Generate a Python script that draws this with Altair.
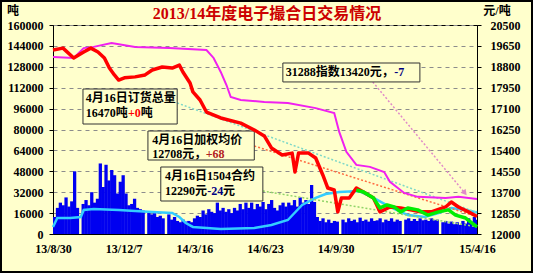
import altair as alt
import pandas as pd

# ---------------- data ----------------
tick_days = [0, 99, 198, 297, 396, 495, 594]
tick_labels = ["13/8/30", "13/12/7", "14/3/16", "14/6/23", "14/9/30", "15/1/7", "15/4/16"]

# daily volume (tons), one bar every 4 days; 0 = holiday gap
volume = [13000, 20000, 24000, 22000, 28000, 21000, 25000, 48000, 20000,
          0,
          23000, 26000, 22000, 32000, 24000, 27000, 54000, 36000, 53000, 41000, 49000,
          45000, 31000, 40000, 45000, 31000, 22000, 23000, 27000, 20000, 19000, 18000,
          0,
          17000, 15000, 16000, 13000, 14000, 12000,
          0,
          15000, 11000, 13000, 10000, 9000, 11000, 9500, 10000, 9000, 12000,
          14000, 13000, 18000, 15000, 19000, 17000, 16000, 24000, 18000, 20000,
          17000, 19000, 16000, 20000, 18000, 23000, 19000, 24000, 20000, 24000,
          19000, 23000, 21000, 24500, 19000, 23000, 26000, 20000, 18000, 22000,
          24000, 21000, 24000, 22000, 26000, 21000, 28000, 24000, 26000, 23000,
          37500, 24500, 13000, 10000, 12000, 9000, 11000, 8500, 10000, 9500,
          0,
          11000, 9000, 12000, 10000, 11000, 9000, 12500, 10000, 11000, 9500, 12000,
          10000, 10500, 12000, 9000, 11000, 10000, 12000, 9500, 11000, 10000,
          0,
          11000, 12000, 10000, 11500, 10000, 12000, 10500, 11000, 10000, 12000, 10500, 11000,
          0,
          9000, 10000, 8000, 9500, 7500, 9000, 7000, 10000, 8000, 12000, 9000, 13000, 11000]

# total open orders (tons, left axis)
order_days = [0, 6, 24, 39, 43, 57, 92, 115, 139, 167, 177, 186, 196, 235, 282, 306,
              329, 349, 368, 382, 401, 429, 449, 472, 497, 521, 540, 558, 578, 594]
order_vals = [5400, 12300, 12300, 13000, 18400, 19100, 18400, 17600, 16800, 16100, 13000,
              8400, 5400, 3800, 4600, 6900, 10700, 22200, 27600, 30600, 32200, 32900,
              27600, 20700, 14500, 13000, 16100, 19900, 18400, 16470]

# weighted average price (yuan/ton, right axis)
price_days = [0, 14, 29, 43, 53, 63, 72, 79, 86, 92, 100, 115, 129, 139, 153, 167, 177,
              182, 192, 196, 206, 215, 235, 263, 282, 296, 306, 321, 335, 339, 344, 358,
              368, 378, 385, 394, 399, 404, 415, 425, 435, 449, 458, 472, 487, 501, 515,
              530, 550, 558, 568, 582, 594]
price_vals = [19480, 19560, 19160, 19400, 19560, 19400, 19160, 18750, 18470, 18260, 18350,
              18390, 18470, 18670, 18790, 18750, 18870, 18590, 18140, 17780, 17450, 16960,
              16720, 16510, 16230, 15990, 15500, 15210, 15290, 14520, 15290, 15290, 15090,
              14400, 13870, 13790, 12900, 13460, 13460, 13870, 13710, 13460, 12900, 13100,
              13060, 12980, 12900, 12900, 13100, 13300, 13100, 12900, 12708]

# 1504 contract (yuan/ton, right axis)
c1504_days = [425, 435, 449, 458, 468, 478, 487, 497, 511, 525, 540, 554, 564, 578, 594]
c1504_vals = [13790, 13710, 13460, 13060, 13180, 13100, 12900, 13060, 12980, 12770, 12900,
              12980, 12770, 12650, 12290]

# 31288 index (yuan/ton, right axis)
index_days = [0, 29, 43, 57, 82, 115, 163, 215, 225, 235, 243, 249, 263, 296, 329, 368,
              394, 401, 411, 425, 444, 464, 472, 492, 511, 550, 568, 594]
index_vals = [19200, 19160, 19560, 19610, 19770, 19610, 19560, 19480, 19160, 18590, 18060,
              17570, 17450, 17370, 17330, 17120, 16920, 16150, 15340, 14810, 14730, 14520,
              14120, 13670, 13510, 13460, 13510, 13420]

# ---------------- annotation layout (data units: day, left-axis tons) ----------------
box_x = [42, 133, 151, 322]
box_x2 = [174, 282, 294, 514]
box_y = [84200, 56650, 25260, 116400]
box_y2 = [111000, 78850, 51290, 130900]

ann_text = ["4月16日订货总量", "16470吨", "+0", "吨",
            "4月16日加权均价", "12708元，", "+68",
            "4月16日1504合约", "12290元", "-24", "元",
            "31288指数13420元，", "-7"]
ann_x = [46, 46, 105, 123, 139, 139, 214, 157, 157, 216, 238, 326, 478]
ann_y = [104100, 92600, 92600, 92600, 71960, 61240, 61240, 44400, 32920, 32920, 32920,
         124000, 124000]
ann_color = ["#000000", "#000000", "#FF0000", "#000000",
             "#000000", "#000000", "#B22222",
             "#000000", "#000000", "#000080", "#000000",
             "#000000", "#000080"]

DAY_END = 594
LEFT_MAX = 160000
R_MIN, R_MAX = 12000, 20500


def to_left(v):
    return (v - R_MIN) / (R_MAX - R_MIN) * LEFT_MAX


lead_x = [174, 282, 294, 448]
lead_y = [100300, 67370, 32920, 116400]
lead_x2 = [DAY_END, DAY_END, DAY_END, 577]
lead_y2 = [order_vals[-1], to_left(price_vals[-1]), to_left(c1504_vals[-1]), 31390]
lead_color = ["#7FD8C8", "#FF6A40", "#90D468", "#E08BC8"]

# ---------------- styling ----------------
FONT = "Liberation Serif, Noto Sans CJK SC"
BG = "#FFFFCC"

label_expr = " : ".join(f"datum.value == {d} ? '{l}'" for d, l in zip(tick_days, tick_labels)) + " : ''"
x_scale = alt.Scale(domain=[0, DAY_END], nice=False, zero=False)
x_axis = alt.Axis(values=tick_days, labelExpr=label_expr, title=None, ticks=False,
                  domainColor="black", labelFont=FONT, labelFontSize=12,
                  labelFontWeight="bold", labelColor="black", labelPadding=9,
                  grid=False, labelFlush=False, labelOverlap=False)

yl_scale = alt.Scale(domain=[0, LEFT_MAX], nice=False, zero=True)
yl_axis = alt.Axis(values=list(range(0, LEFT_MAX + 1, 16000)), format="d", title=None,
                   orient="left", grid=True, gridColor="#8C8C8C", gridDash=[4, 4],
                   domainColor="black", tickColor="black", tickSize=4, labelPadding=6,
                   labelFont=FONT, labelFontSize=12, labelFontWeight="bold",
                   labelColor="black")
yr_scale = alt.Scale(domain=[R_MIN, R_MAX], nice=False, zero=False)
yr_axis = alt.Axis(values=list(range(R_MIN, R_MAX + 1, 850)), format="d", title=None,
                   orient="right", grid=False, domainColor="black", tickColor="black",
                   tickSize=4, labelPadding=9, labelFont=FONT, labelFontSize=12,
                   labelFontWeight="bold", labelColor="black")


def X(f):
    return alt.X(f"{f}:Q", scale=x_scale, axis=x_axis)


def YL(f):
    return alt.Y(f"{f}:Q", scale=yl_scale, axis=yl_axis)


def YR(f):
    return alt.Y(f"{f}:Q", scale=yr_scale, axis=yr_axis)


# ---------------- tables ----------------
vol_df = pd.DataFrame({"day": [i * 4 for i in range(len(volume))], "v": volume})
vol_df["day_end"] = vol_df["day"] + 4.6
vol_df["base"] = 0
vol_df = vol_df[vol_df["v"] > 0]

order_df = pd.DataFrame({"day": order_days, "v": order_vals})
price_df = pd.DataFrame({"day": price_days, "p": price_vals})
c1504_df = pd.DataFrame({"day": c1504_days, "p": c1504_vals})
index_df = pd.DataFrame({"day": index_days, "p": index_vals})
box_df = pd.DataFrame({"x": box_x, "x2": box_x2, "y": box_y, "y2": box_y2})
ann_df = pd.DataFrame({"x": ann_x, "y": ann_y, "t": ann_text, "c": ann_color})
lead_df = pd.DataFrame({"x": lead_x, "y": lead_y, "x2": lead_x2, "y2": lead_y2, "c": lead_color})
arrow_df = lead_df.iloc[[3]]
one = pd.DataFrame({"t": ["2013/14年度电子撮合日交易情况"], "u1": ["吨"], "u2": ["元/吨"]})

# ---------------- marks ----------------
bars = alt.Chart(vol_df).mark_rect(color="#0000F0", clip=True).encode(
    x=X("day"), x2="day_end", y=YL("v"), y2="base")

order_line = alt.Chart(order_df).mark_line(color="#33CCFF", strokeWidth=2.5).encode(
    x=X("day"), y=YL("v"))

leads = alt.Chart(lead_df).mark_rule(strokeDash=[2, 2], strokeWidth=1.5).encode(
    x=X("x"), x2="x2", y=YL("y"), y2="y2", color=alt.Color("c:N", scale=None))

arrow = alt.Chart(arrow_df).mark_point(shape="triangle-down", filled=True, size=45,
                                       angle=321, opacity=1).encode(
    x=X("x2"), y=YL("y2"), color=alt.Color("c:N", scale=None))

boxes = alt.Chart(box_df).mark_rect(fill=BG, stroke="#333333", strokeWidth=1).encode(
    x=X("x"), x2="x2", y=YL("y"), y2="y2")

texts = alt.Chart(ann_df).mark_text(align="left", baseline="middle", font=FONT,
                                    fontSize=12, fontWeight="bold").encode(
    x=X("x"), y=YL("y"), text="t:N", color=alt.Color("c:N", scale=None))

frame = alt.Chart(one).mark_rect(filled=False, stroke="black", strokeWidth=2).encode(
    x=alt.value(-52), x2=alt.value(479), y=alt.value(-24), y2=alt.value(247))

title = alt.Chart(one).mark_text(font=FONT, fontSize=16, fontWeight="bold",
                                 color="#CC0000", align="center", baseline="middle").encode(
    x=alt.value(214), y=alt.value(-11), text="t:N")

unit_l = alt.Chart(one).mark_text(font=FONT, fontSize=12, fontWeight="bold",
                                  color="black", align="center", baseline="middle").encode(
    x=alt.value(-40), y=alt.value(-14), text="u1:N")

unit_r = alt.Chart(one).mark_text(font=FONT, fontSize=12, fontWeight="bold",
                                  color="black", align="center", baseline="middle").encode(
    x=alt.value(444), y=alt.value(-14), text="u2:N")

price_line = alt.Chart(price_df).mark_line(color="#FF0000", strokeWidth=3.5,
                                           strokeJoin="round").encode(
    x=X("day"), y=YR("p"))
c1504_line = alt.Chart(c1504_df).mark_line(color="#00EE00", strokeWidth=3.5,
                                           strokeJoin="round").encode(
    x=X("day"), y=YR("p"))
index_line = alt.Chart(index_df).mark_line(color="#F020F0", strokeWidth=2).encode(
    x=X("day"), y=YR("p"))

left = alt.layer(bars, order_line, leads, arrow, boxes, texts, frame, title, unit_l, unit_r)
right = alt.layer(index_line, price_line, c1504_line)

chart = alt.layer(left, right).resolve_scale(y="independent").properties(
    width=424, height=209,
    autosize=alt.AutoSizeParams(type="none"),
    padding={"left": 53, "top": 25, "right": 56, "bottom": 39},
    background=BG,
).configure_view(stroke="black", strokeWidth=1)

chart.save("out.html", embed_options={"renderer": "svg", "actions": False})
